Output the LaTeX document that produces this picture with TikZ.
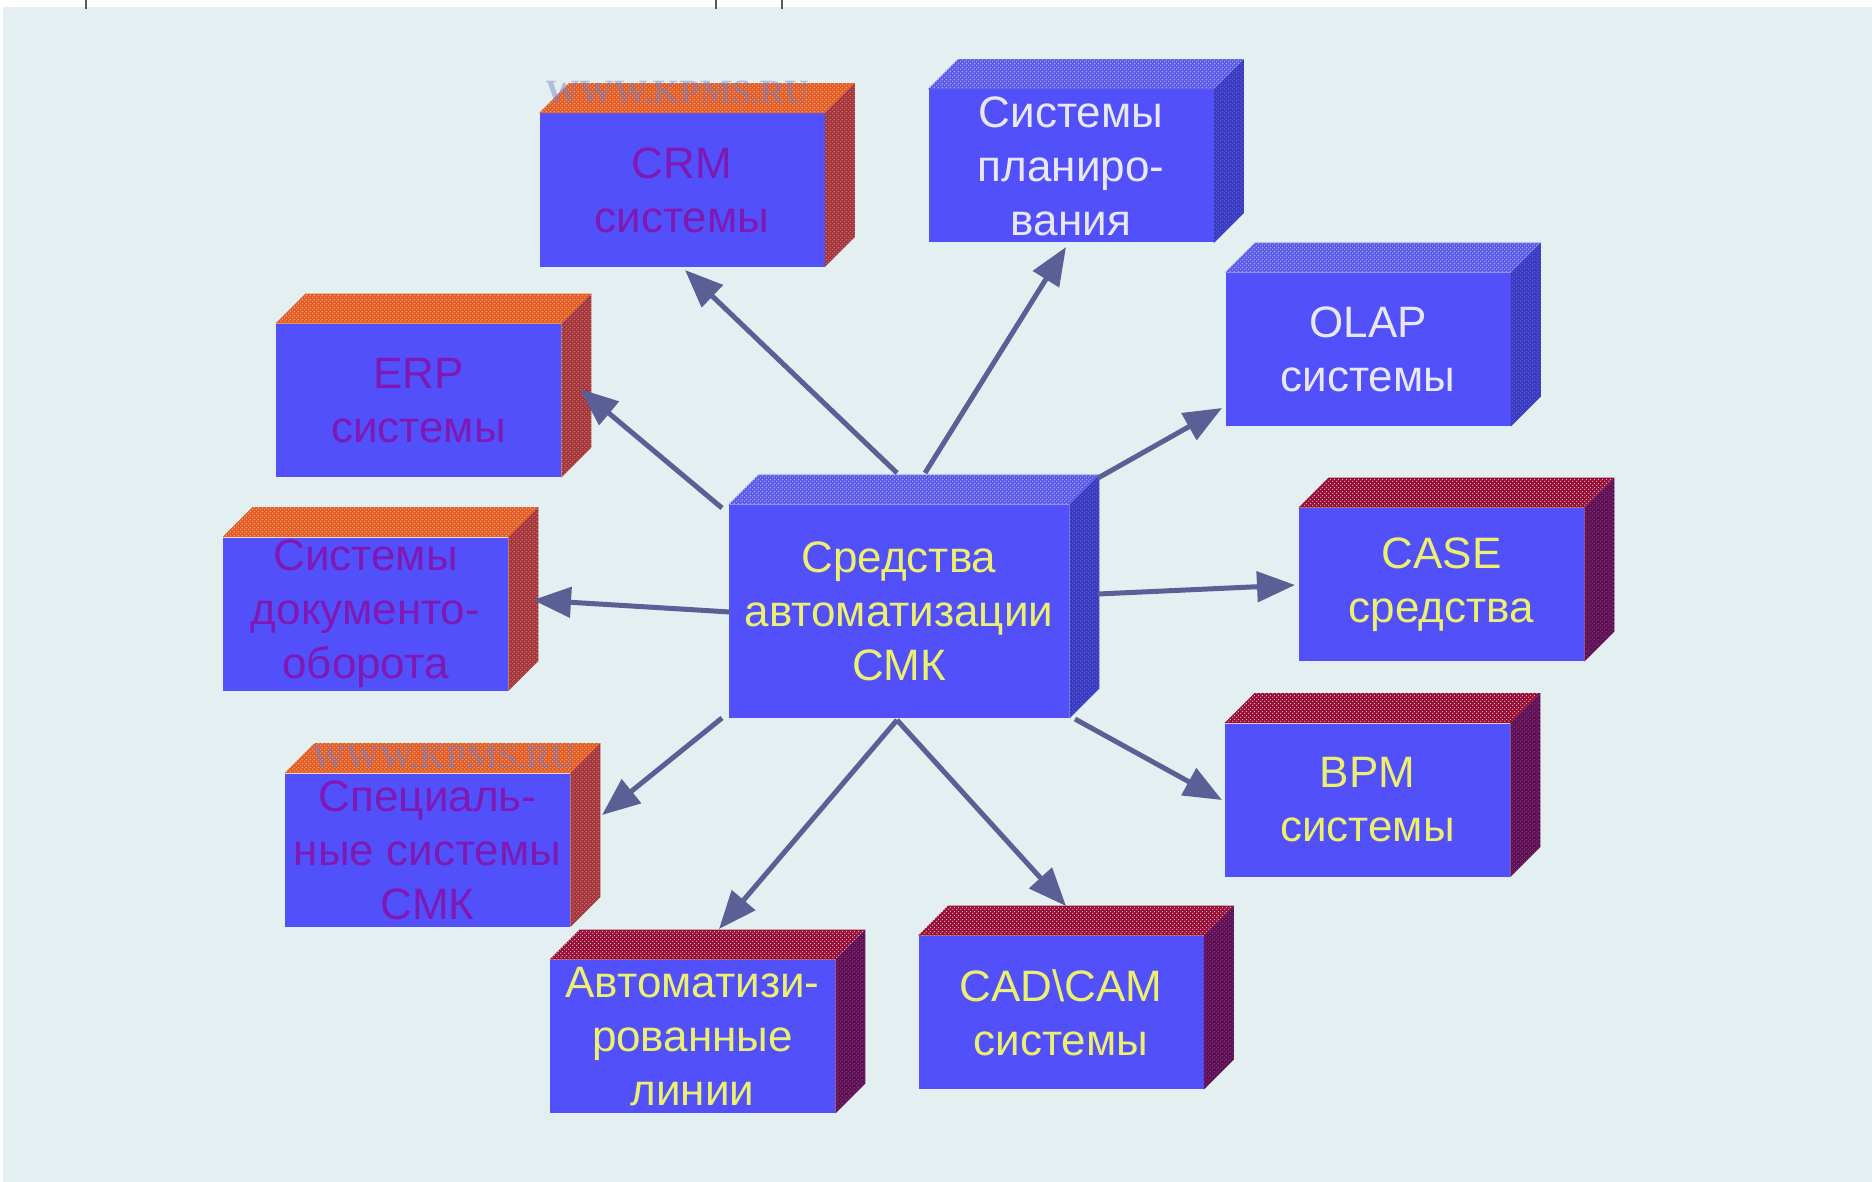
\documentclass[tikz,border=0pt]{standalone}
\usepackage{fontspec}
\setmainfont{Liberation Sans}
\newfontfamily\wmfont{Liberation Serif}
\usetikzlibrary{arrows.meta,patterns.meta}

\definecolor{bg}{RGB}{227,239,240}
\definecolor{frontc}{RGB}{82,80,250}
\definecolor{orTop}{RGB}{228,92,38}
\definecolor{orTopD}{RGB}{250,175,125}
\definecolor{orSide}{RGB}{160,55,65}
\definecolor{orSideD}{RGB}{228,115,90}
\definecolor{blTop}{RGB}{92,92,232}
\definecolor{blTopD}{RGB}{175,175,255}
\definecolor{blSide}{RGB}{58,58,190}
\definecolor{blSideD}{RGB}{95,95,222}
\definecolor{rdTop}{RGB}{150,15,55}
\definecolor{rdTopD}{RGB}{240,170,190}
\definecolor{rdSide}{RGB}{92,18,88}
\definecolor{rdSideD}{RGB}{150,50,110}
\definecolor{txPurple}{RGB}{128,25,180}
\definecolor{txWhite}{RGB}{232,232,245}
\definecolor{txYellow}{RGB}{236,240,110}
\definecolor{arrowc}{RGB}{90,95,150}
\definecolor{wmc}{RGB}{110,130,205}

\tikzdeclarepattern{
  name=fdots,
  type=uncolored,
  bounding box={(0pt,0pt) and (2pt,2pt)},
  tile size={(2pt,2pt)},
  code={\fill (0.5pt,0.5pt) circle (0.4pt); \fill (1.5pt,1.5pt) circle (0.4pt);}
}

\newcommand\cubefaces[5]{%
  \fill[#2, postaction={pattern=fdots, pattern color=#3}]
    (#1.north west) -- (#1.north east) -- ([shift={(30,-30)}]#1.north east)
    -- ([shift={(30,-30)}]#1.north west) -- cycle;
  \fill[#4, postaction={pattern=fdots, pattern color=#5}]
    (#1.north east) -- (#1.south east) -- ([shift={(30,-30)}]#1.south east)
    -- ([shift={(30,-30)}]#1.north east) -- cycle;
}

\tikzset{
  front/.style={fill=frontc, inner sep=0pt, minimum width=142.5pt,
    minimum height=76.5pt, align=center, font=\fontsize{22}{27}\selectfont},
  tpurple/.style={text=txPurple},
  twhite/.style={text=txWhite},
  tyellow/.style={text=txYellow},
  conn/.style={draw=arrowc, line width=2.5pt,
    -{Triangle[length=19pt,width=15pt]}},
  wm/.style={text=wmc, opacity=0.45, inner sep=0pt,
    font=\wmfont\bfseries\fontsize{17}{17}\selectfont},
  tick/.style={draw=black!65, line width=1pt}
}

\begin{document}
\begin{tikzpicture}[x=0.5pt, y=-0.5pt]
\fill[white] (0,0) rectangle (1872,1182);
\fill[bg] (3,7) rectangle (1872,1182);
\useasboundingbox (0,0) rectangle (1872,1182);
\draw[tick] (86,0) -- (86,9);
\draw[tick] (716,0) -- (716,9);
\draw[tick] (782,0) -- (782,9);

% boxes
\node[front, tpurple] (crm) at (682,190) {CRM\\системы};
\cubefaces{crm}{orTop}{orTopD}{orSide}{orSideD}
\node[front, twhite] (plan) at (1071,166) {Системы\\планиро-\\вания};
\cubefaces{plan}{blTop}{blTopD}{blSide}{blSideD}
\node[front, twhite] (olap) at (1368,349.5) {OLAP\\системы};
\cubefaces{olap}{blTop}{blTopD}{blSide}{blSideD}
\node[front, tpurple] (erp) at (418.5,400.5) {ERP\\системы};
\cubefaces{erp}{orTop}{orTopD}{orSide}{orSideD}
\node[front, tpurple] (doc) at (365.5,614) {Системы\\документо-\\оборота};
\cubefaces{doc}{orTop}{orTopD}{orSide}{orSideD}
\node[front, tyellow, minimum width=170pt, minimum height=106.5pt] (center) at (899,611.5) {Средства\\автоматизации\\СМК};
\cubefaces{center}{blTop}{blTopD}{blSide}{blSideD}
\node[front, tyellow] (case) at (1441.5,584.5) {CASE\\средства};
\cubefaces{case}{rdTop}{rdTopD}{rdSide}{rdSideD}
\node[front, tpurple] (spec) at (427.5,850) {Специаль-\\ные системы\\СМК};
\cubefaces{spec}{orTop}{orTopD}{orSide}{orSideD}
\node[front, tyellow] (bpm) at (1367.5,800) {BPM\\системы};
\cubefaces{bpm}{rdTop}{rdTopD}{rdSide}{rdSideD}
\node[front, tyellow] (auto) at (692.5,1036.5) {Автоматизи-\\рованные\\линии};
\cubefaces{auto}{rdTop}{rdTopD}{rdSide}{rdSideD}
\node[front, tyellow] (cad) at (1061,1012.5) {CAD\textbackslash CAM\\системы};
\cubefaces{cad}{rdTop}{rdTopD}{rdSide}{rdSideD}

% watermarks
\node[wm] (wm1) at (677,93) {WWW.KPMS.RU};
\node[wm] (wm2) at (443,757) {WWW.KPMS.RU};

% arrow end points
\coordinate (s-crm) at (897,473);
\coordinate (s-plan) at (925,473);
\coordinate (s-olap) at (1098,478);
\coordinate (s-erp) at (722,508);
\coordinate (s-doc) at (730,612);
\coordinate (s-case) at (1098,594);
\coordinate (s-bpm) at (1075,719);
\coordinate (s-low) at (897,720);
\coordinate (s-spec) at (722,718);
\coordinate (t-crm) at (685,270);
\coordinate (t-plan) at (1066,247);
\coordinate (t-olap) at (1222,408);
\coordinate (t-erp) at (580,389);
\coordinate (t-doc) at (533,600);
\coordinate (t-case) at (1295,585);
\coordinate (t-bpm) at (1222,800);
\coordinate (t-cad) at (1066,906);
\coordinate (t-auto) at (719,929);
\coordinate (t-spec) at (602,815);

\draw[conn] (s-crm) -- (t-crm);
\draw[conn] (s-plan) -- (t-plan);
\draw[conn] (s-olap) -- (t-olap);
\draw[conn] (s-erp) -- (t-erp);
\draw[conn] (s-doc) -- (t-doc);
\draw[conn] (s-case) -- (t-case);
\draw[conn] (s-bpm) -- (t-bpm);
\draw[conn] (s-low) -- (t-cad);
\draw[conn] (s-low) -- (t-auto);
\draw[conn] (s-spec) -- (t-spec);
\end{tikzpicture}
\end{document}
